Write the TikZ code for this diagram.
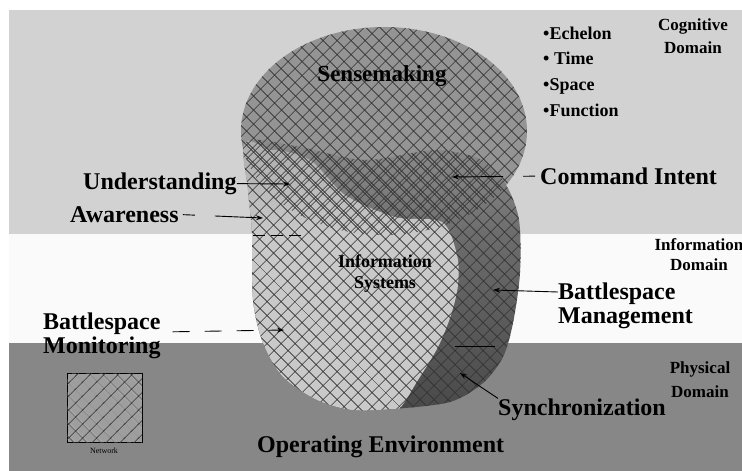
\documentclass[tikz,border=0pt]{standalone}
\usepackage{fontspec}
\setmainfont{Liberation Serif}
\usetikzlibrary{arrows.meta,patterns.meta,fadings}
\tikzset{
  hatch/.style={pattern={Hatch[angle=45,distance=10.5pt,line width=0.7pt]}, pattern color=black!80},
  big label/.style={font=\fontsize{24}{24}\selectfont\bfseries, inner sep=0pt},
  domain label/.style={font=\fontsize{17}{23}\selectfont\bfseries, inner sep=0pt, align=center},
  lead/.style={line width=0.9pt, -{Stealth[length=7pt, width=5pt]}},
}
\begin{document}
\begin{tikzpicture}[x=1pt, y=-1pt]
  \useasboundingbox (0,0) rectangle (742,471);
  \def\egg{plot [smooth cycle] coordinates {(246,142) (248,190) (252,233) (253,300) (263,343)
      (283,377) (317,400) (352,410) (393,409) (450,402) (483,383) (503,357)
      (513,323) (520,273) (519,220) (506,185) (482,160) (435,150) (365,160) (295,146)}}
  \def\info{plot [smooth cycle] coordinates {(232,160) (272,150) (310,160) (345,195)
      (395,217) (442,222) (457,255) (458,285) (451,315) (438,347)
      (418,380) (396,412) (360,425) (240,425)}}
  % domains
  \fill [gray!35] (9,10) rectangle (742,234);
  \fill [black!2] (9,234) rectangle (742,343);
  \fill [black!47] (9,343) rectangle (742,471);
  % sensemaking
  \fill [black!42] (384,131) ellipse [x radius=143, y radius=104];
  % egg
  \begin{scope}
    \clip \egg;
    \shade [top color=black!50, bottom color=black!72] (240,140) rectangle (530,420);
    \fill [gray!42] \info;
    \fill [black!42, path fading=south] (240,60) rectangle (530,235);
  \end{scope}
  \fill [hatch] (384,131) ellipse [x radius=143, y radius=104];
  \fill [hatch] \egg;
  \draw [line width=0.9pt, dash pattern=on 12pt off 6pt] (253,235) -- (305,235);
  \draw [line width=0.9pt] (455,346) -- (495,346);
  % network
  \draw [fill=black!38, line width=0.8pt] (67,373) rectangle (142,442);
  \fill [hatch] (67,373) rectangle (142,442);
  \node [font=\fontsize{8}{8}\selectfont, inner sep=0pt] (net) at (104,451) {Network};
  % labels
  \node [big label, font=\fontsize{23}{23}\selectfont\bfseries, anchor=mid] (sense) at (382,79) {Sensemaking};
  \node [big label, font=\fontsize{18}{21}\selectfont\bfseries, align=center] (infosys) at (385,274) {Information\\Systems};
  \node [big label, font=\fontsize{18}{25.7}\selectfont\bfseries, align=left, anchor=west] (dims) at (543,71.5)
    {\textbullet Echelon\\\textbullet\ Time\\\textbullet Space\\\textbullet Function};
  \node [domain label] (cog) at (693,36.5) {Cognitive\\Domain};
  \node [domain label, font=\fontsize{17}{20}\selectfont\bfseries] (infodom) at (699,255) {Information\\Domain};
  \node [domain label, font=\fontsize{17}{24}\selectfont\bfseries] (phys) at (700,380) {Physical\\Domain};
  \node [big label, anchor=mid west] (und) at (83,187) {Understanding};
  \node [big label, anchor=mid west] (awa) at (70,220) {Awareness};
  \node [big label, anchor=mid west] (cmd) at (540,182) {Command Intent};
  \node [big label, align=left, anchor=west] (bsman) at (558,306) {Battlespace\\Management};
  \node [big label, align=left, anchor=west] (bsmon) at (43,336) {Battlespace\\Monitoring};
  \node [big label, anchor=mid west] (sync) at (498,413) {Synchronization};
  \node [big label, anchor=mid west] (env) at (257,450) {Operating Environment};
  % leaders
  \coordinate (und-tip) at (290,184);
  \coordinate (awa-tip) at (263,218);
  \coordinate (cmd-tip) at (452,177);
  \coordinate (bsman-tip) at (493,290);
  \coordinate (bsmon-tip) at (284,330);
  \coordinate (sync-tip) at (460,373);
  \draw [lead] (und.east) -- (und-tip);
  \draw [lead, dash pattern=on 12pt off 20pt on 80pt, shorten <=4pt] (awa.east) -- (awa-tip);
  \draw [lead, dash pattern=on 12pt off 20pt on 80pt, shorten <=5pt] (cmd.west) -- (cmd-tip);
  \draw [lead] ([yshift=14pt]bsman.west) -- (bsman-tip);
  \draw [lead, dash pattern=on 17pt off 15pt, shorten <=12pt] ([yshift=4pt]bsmon.east) -- (bsmon-tip);
  \draw [lead] (sync.north west) -- (sync-tip);
\end{tikzpicture}
\end{document}
